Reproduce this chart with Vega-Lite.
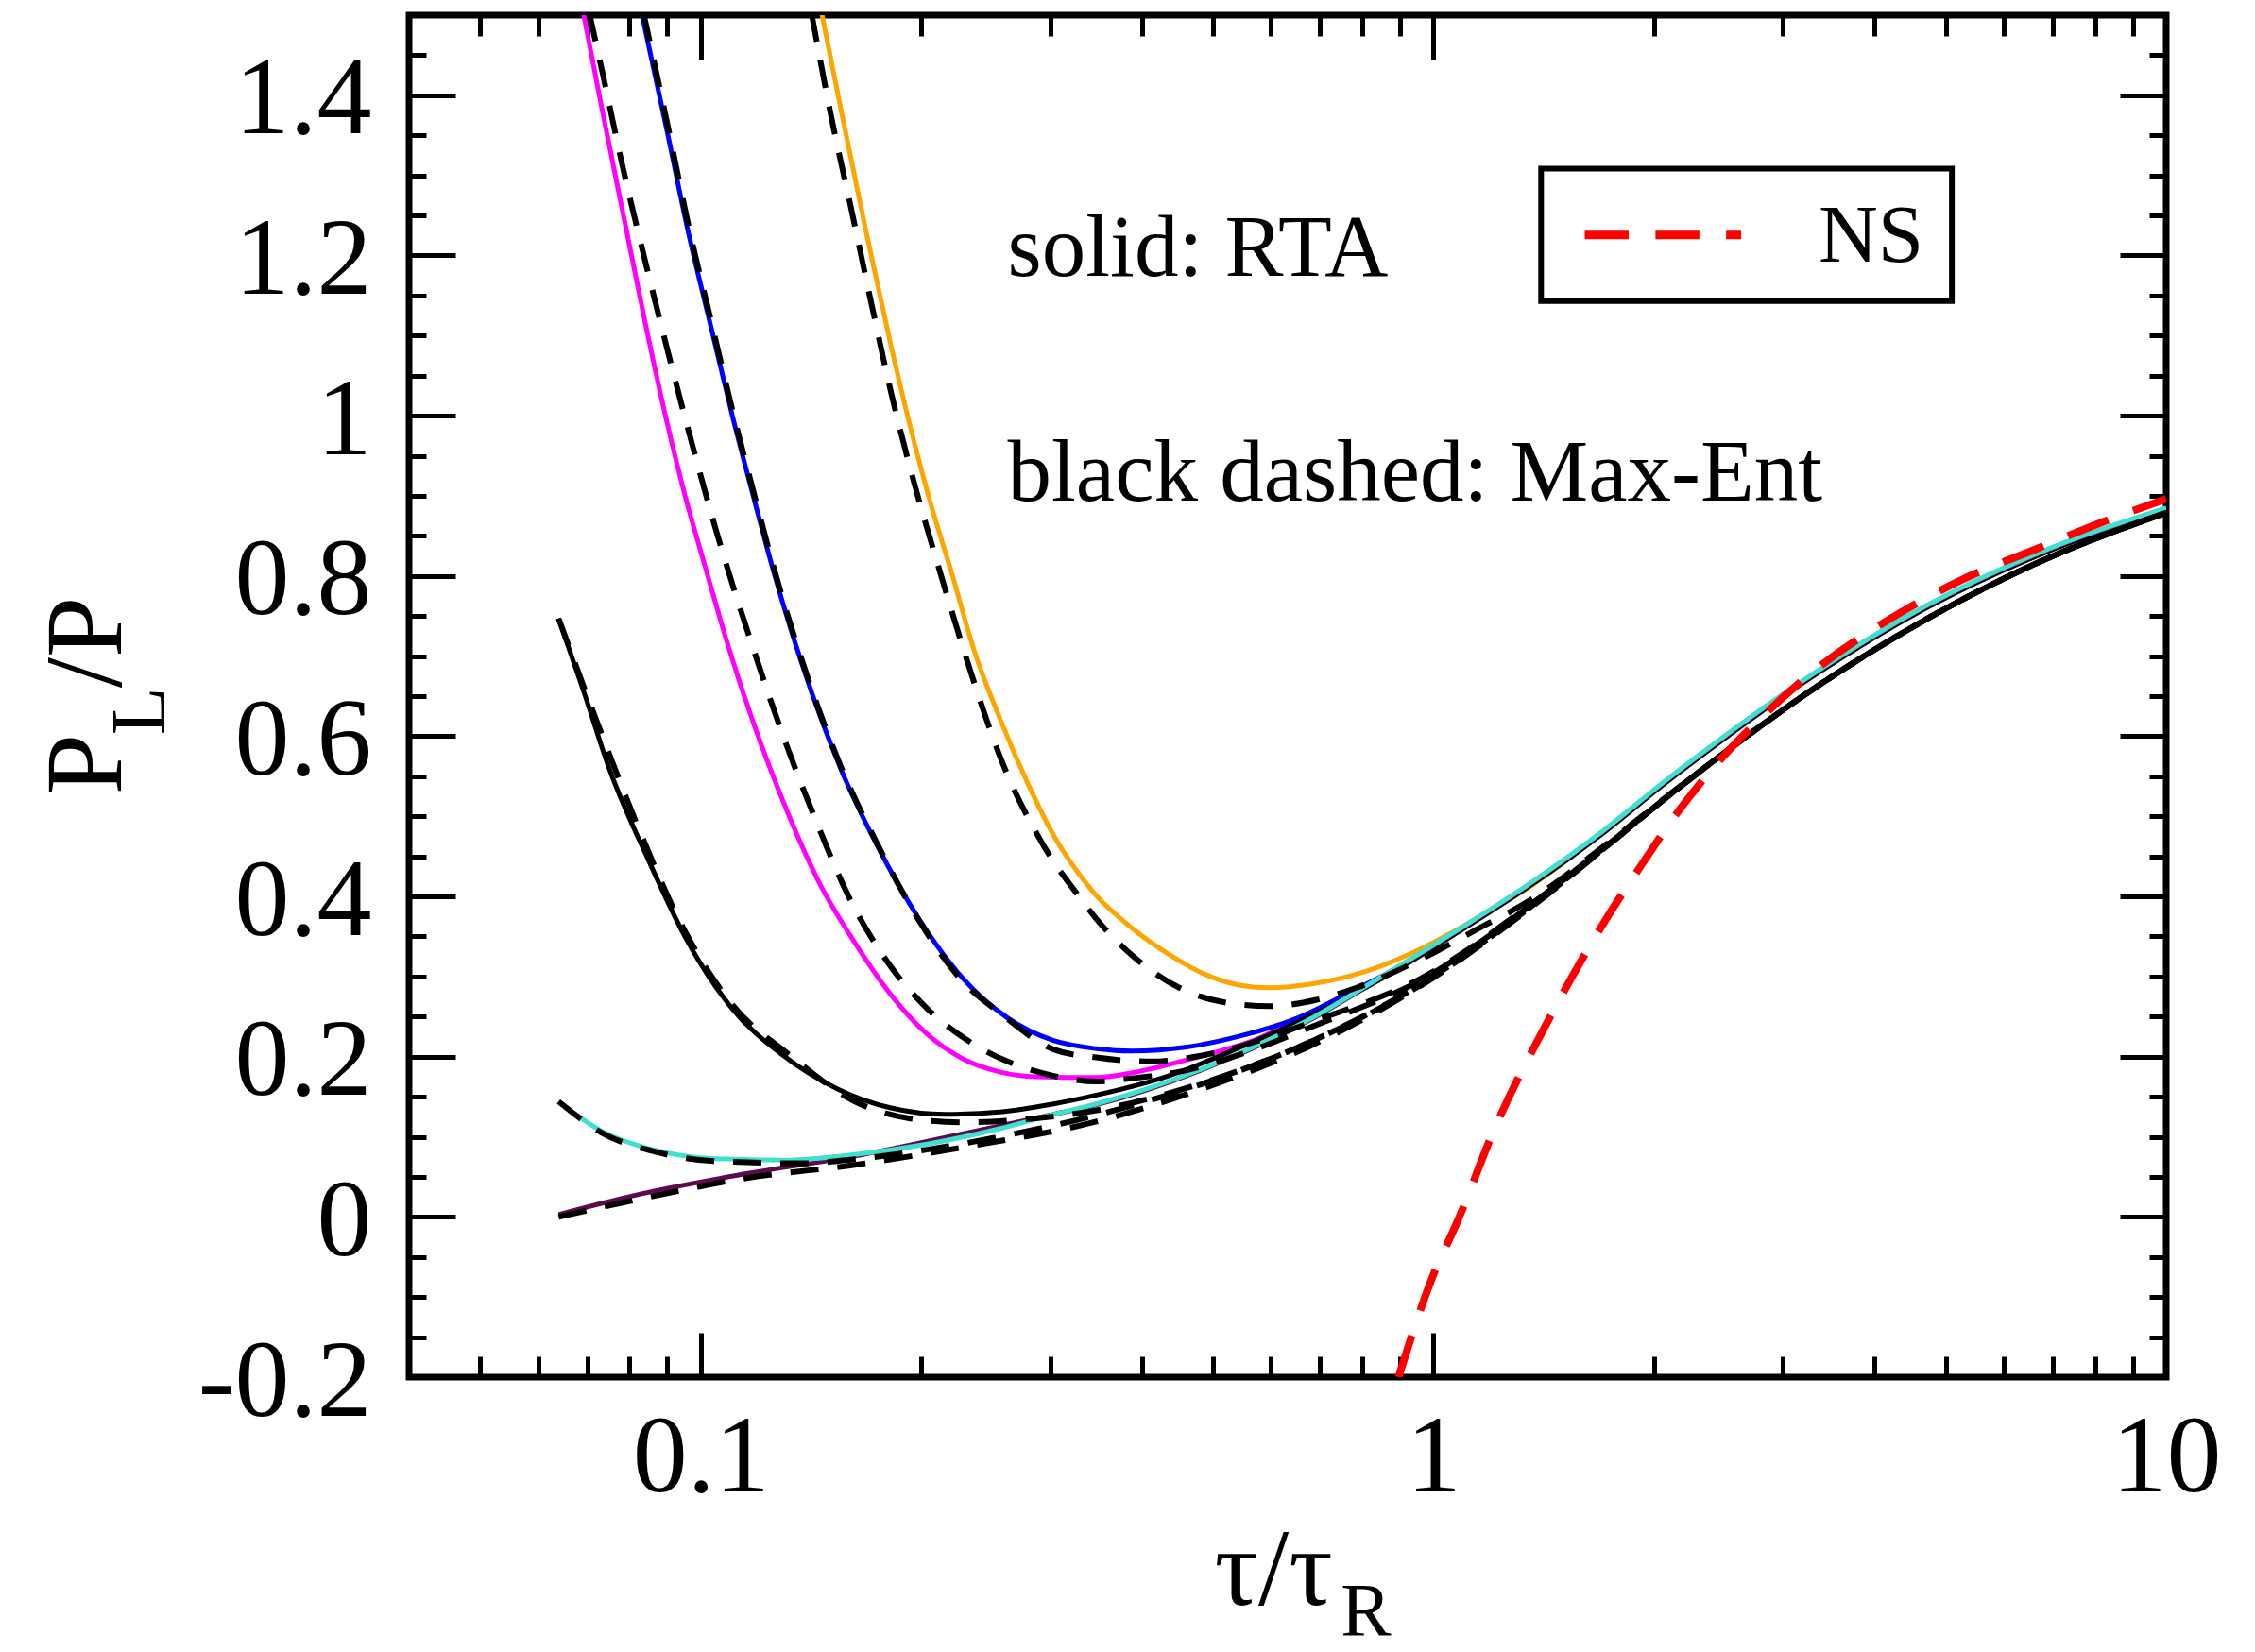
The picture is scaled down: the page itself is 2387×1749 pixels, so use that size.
{
  "$schema": "https://vega.github.io/schema/vega-lite/v6.json",
  "width": 1860,
  "height": 1442,
  "autosize": {"type": "none"},
  "padding": {"left": 433, "top": 16, "right": 94, "bottom": 291},
  "background": "white",
  "config": {
    "font": "Liberation Serif",
    "view": {"stroke": "black", "strokeWidth": 7},
    "axis": {
      "domain": false,
      "grid": false,
      "tickColor": "black",
      "tickWidth": 5,
      "tickCap": "butt",
      "labelFont": "Liberation Serif",
      "labelFontSize": 116,
      "labelColor": "black",
      "labelLimit": 0,
      "labelOverlap": false,
      "labelFlush": false,
      "labelBound": false
    }
  },
  "datasets": {
    "rta": [
      {"run": "r1", "tau": 0.1463, "ratio": 1.502}, {"run": "r1", "tau": 0.157, "ratio": 1.362}, {"run": "r1", "tau": 0.1684, "ratio": 1.227},
      {"run": "r1", "tau": 0.1815, "ratio": 1.091}, {"run": "r1", "tau": 0.1941, "ratio": 0.979}, {"run": "r1", "tau": 0.2068, "ratio": 0.885},
      {"run": "r1", "tau": 0.2194, "ratio": 0.808}, {"run": "r1", "tau": 0.2362, "ratio": 0.707}, {"run": "r1", "tau": 0.2558, "ratio": 0.623},
      {"run": "r1", "tau": 0.2802, "ratio": 0.539}, {"run": "r1", "tau": 0.3032, "ratio": 0.476}, {"run": "r1", "tau": 0.3283, "ratio": 0.428},
      {"run": "r1", "tau": 0.3467, "ratio": 0.401}, {"run": "r1", "tau": 0.3884, "ratio": 0.36}, {"run": "r1", "tau": 0.435, "ratio": 0.328},
      {"run": "r1", "tau": 0.4874, "ratio": 0.303}, {"run": "r1", "tau": 0.546, "ratio": 0.289}, {"run": "r1", "tau": 0.598, "ratio": 0.286},
      {"run": "r1", "tau": 0.6852, "ratio": 0.291}, {"run": "r1", "tau": 0.8124, "ratio": 0.307}, {"run": "r1", "tau": 0.963, "ratio": 0.335},
      {"run": "r1", "tau": 1.142, "ratio": 0.372}, {"run": "r1", "tau": 1.353, "ratio": 0.412}, {"run": "r1", "tau": 1.71, "ratio": 0.481},
      {"run": "r1", "tau": 2.057, "ratio": 0.54}, {"run": "r1", "tau": 2.411, "ratio": 0.588}, {"run": "r1", "tau": 3.375, "ratio": 0.682},
      {"run": "r1", "tau": 4.727, "ratio": 0.762}, {"run": "r1", "tau": 6.62, "ratio": 0.825}, {"run": "r1", "tau": 10, "ratio": 0.883},

      {"run": "r2", "tau": 0.0692, "ratio": 1.502}, {"run": "r2", "tau": 0.0733, "ratio": 1.384}, {"run": "r2", "tau": 0.0785, "ratio": 1.249},
      {"run": "r2", "tau": 0.0841, "ratio": 1.114}, {"run": "r2", "tau": 0.09, "ratio": 0.991}, {"run": "r2", "tau": 0.0953, "ratio": 0.899},
      {"run": "r2", "tau": 0.1014, "ratio": 0.812}, {"run": "r2", "tau": 0.1091, "ratio": 0.712}, {"run": "r2", "tau": 0.1182, "ratio": 0.615},
      {"run": "r2", "tau": 0.1294, "ratio": 0.52}, {"run": "r2", "tau": 0.145, "ratio": 0.418}, {"run": "r2", "tau": 0.1624, "ratio": 0.342},
      {"run": "r2", "tau": 0.1819, "ratio": 0.277}, {"run": "r2", "tau": 0.2038, "ratio": 0.228}, {"run": "r2", "tau": 0.2283, "ratio": 0.197},
      {"run": "r2", "tau": 0.2558, "ratio": 0.181}, {"run": "r2", "tau": 0.2866, "ratio": 0.175}, {"run": "r2", "tau": 0.3467, "ratio": 0.174},
      {"run": "r2", "tau": 0.3884, "ratio": 0.18}, {"run": "r2", "tau": 0.4606, "ratio": 0.196}, {"run": "r2", "tau": 0.5776, "ratio": 0.223},
      {"run": "r2", "tau": 0.6852, "ratio": 0.256}, {"run": "r2", "tau": 0.768, "ratio": 0.28}, {"run": "r2", "tau": 0.86, "ratio": 0.302},
      {"run": "r2", "tau": 1.079, "ratio": 0.356}, {"run": "r2", "tau": 1.353, "ratio": 0.415}, {"run": "r2", "tau": 1.71, "ratio": 0.482},
      {"run": "r2", "tau": 2.057, "ratio": 0.541}, {"run": "r2", "tau": 2.411, "ratio": 0.589}, {"run": "r2", "tau": 3.375, "ratio": 0.683},
      {"run": "r2", "tau": 4.727, "ratio": 0.763}, {"run": "r2", "tau": 6.62, "ratio": 0.826}, {"run": "r2", "tau": 10, "ratio": 0.884},

      {"run": "r3", "tau": 0.0831, "ratio": 1.502}, {"run": "r3", "tau": 0.09, "ratio": 1.355}, {"run": "r3", "tau": 0.0963, "ratio": 1.227},
      {"run": "r3", "tau": 0.1031, "ratio": 1.114}, {"run": "r3", "tau": 0.1104, "ratio": 1.001}, {"run": "r3", "tau": 0.1182, "ratio": 0.897},
      {"run": "r3", "tau": 0.1251, "ratio": 0.813}, {"run": "r3", "tau": 0.1417, "ratio": 0.655}, {"run": "r3", "tau": 0.1552, "ratio": 0.56},
      {"run": "r3", "tau": 0.1738, "ratio": 0.465}, {"run": "r3", "tau": 0.1992, "ratio": 0.37}, {"run": "r3", "tau": 0.2283, "ratio": 0.297},
      {"run": "r3", "tau": 0.2617, "ratio": 0.249}, {"run": "r3", "tau": 0.3032, "ratio": 0.22}, {"run": "r3", "tau": 0.3467, "ratio": 0.21},
      {"run": "r3", "tau": 0.3884, "ratio": 0.207}, {"run": "r3", "tau": 0.4606, "ratio": 0.212}, {"run": "r3", "tau": 0.546, "ratio": 0.226},
      {"run": "r3", "tau": 0.6475, "ratio": 0.247}, {"run": "r3", "tau": 0.768, "ratio": 0.28}, {"run": "r3", "tau": 0.86, "ratio": 0.303},
      {"run": "r3", "tau": 1.079, "ratio": 0.357}, {"run": "r3", "tau": 1.353, "ratio": 0.415}, {"run": "r3", "tau": 1.71, "ratio": 0.482},
      {"run": "r3", "tau": 2.057, "ratio": 0.541}, {"run": "r3", "tau": 2.411, "ratio": 0.589}, {"run": "r3", "tau": 3.375, "ratio": 0.683},
      {"run": "r3", "tau": 4.727, "ratio": 0.763}, {"run": "r3", "tau": 6.62, "ratio": 0.826}, {"run": "r3", "tau": 10, "ratio": 0.884},

      {"run": "r4", "tau": 0.064, "ratio": 0.747}, {"run": "r4", "tau": 0.0693, "ratio": 0.655}, {"run": "r4", "tau": 0.075, "ratio": 0.56},
      {"run": "r4", "tau": 0.085, "ratio": 0.444}, {"run": "r4", "tau": 0.0953, "ratio": 0.349}, {"run": "r4", "tau": 0.1104, "ratio": 0.26},
      {"run": "r4", "tau": 0.1294, "ratio": 0.202}, {"run": "r4", "tau": 0.1535, "ratio": 0.16}, {"run": "r4", "tau": 0.1819, "ratio": 0.136},
      {"run": "r4", "tau": 0.2158, "ratio": 0.128}, {"run": "r4", "tau": 0.2558, "ratio": 0.131}, {"run": "r4", "tau": 0.3032, "ratio": 0.141},
      {"run": "r4", "tau": 0.3467, "ratio": 0.152}, {"run": "r4", "tau": 0.435, "ratio": 0.176}, {"run": "r4", "tau": 0.546, "ratio": 0.212},
      {"run": "r4", "tau": 0.6852, "ratio": 0.252}, {"run": "r4", "tau": 0.86, "ratio": 0.3}, {"run": "r4", "tau": 1.079, "ratio": 0.355},
      {"run": "r4", "tau": 1.353, "ratio": 0.413}, {"run": "r4", "tau": 1.71, "ratio": 0.48}, {"run": "r4", "tau": 2.057, "ratio": 0.539},
      {"run": "r4", "tau": 2.411, "ratio": 0.587}, {"run": "r4", "tau": 3.375, "ratio": 0.681}, {"run": "r4", "tau": 4.727, "ratio": 0.761},
      {"run": "r4", "tau": 6.62, "ratio": 0.824}, {"run": "r4", "tau": 10, "ratio": 0.882},

      {"run": "r5", "tau": 0.064, "ratio": 0.003}, {"run": "r5", "tau": 0.0822, "ratio": 0.028}, {"run": "r5", "tau": 0.1155, "ratio": 0.054},
      {"run": "r5", "tau": 0.1624, "ratio": 0.076}, {"run": "r5", "tau": 0.2283, "ratio": 0.104}, {"run": "r5", "tau": 0.3032, "ratio": 0.128},
      {"run": "r5", "tau": 0.3467, "ratio": 0.14}, {"run": "r5", "tau": 0.4874, "ratio": 0.185}, {"run": "r5", "tau": 0.6852, "ratio": 0.248},
      {"run": "r5", "tau": 0.86, "ratio": 0.302}, {"run": "r5", "tau": 1.079, "ratio": 0.357}, {"run": "r5", "tau": 1.353, "ratio": 0.415},
      {"run": "r5", "tau": 1.71, "ratio": 0.482}, {"run": "r5", "tau": 2.057, "ratio": 0.541}, {"run": "r5", "tau": 2.411, "ratio": 0.589},
      {"run": "r5", "tau": 3.375, "ratio": 0.683}, {"run": "r5", "tau": 4.727, "ratio": 0.763}, {"run": "r5", "tau": 6.62, "ratio": 0.826},
      {"run": "r5", "tau": 10, "ratio": 0.884},

      {"run": "r6", "tau": 0.064, "ratio": 0.144}, {"run": "r6", "tau": 0.0733, "ratio": 0.107}, {"run": "r6", "tau": 0.087, "ratio": 0.083},
      {"run": "r6", "tau": 0.1031, "ratio": 0.073}, {"run": "r6", "tau": 0.1294, "ratio": 0.071}, {"run": "r6", "tau": 0.1624, "ratio": 0.078},
      {"run": "r6", "tau": 0.2038, "ratio": 0.091}, {"run": "r6", "tau": 0.2558, "ratio": 0.11}, {"run": "r6", "tau": 0.3032, "ratio": 0.128},
      {"run": "r6", "tau": 0.3467, "ratio": 0.141}, {"run": "r6", "tau": 0.4874, "ratio": 0.186}, {"run": "r6", "tau": 0.6852, "ratio": 0.249},
      {"run": "r6", "tau": 0.86, "ratio": 0.303}, {"run": "r6", "tau": 1.079, "ratio": 0.358}, {"run": "r6", "tau": 1.353, "ratio": 0.416},
      {"run": "r6", "tau": 1.71, "ratio": 0.483}, {"run": "r6", "tau": 2.057, "ratio": 0.542}, {"run": "r6", "tau": 2.411, "ratio": 0.59},
      {"run": "r6", "tau": 3.375, "ratio": 0.684}, {"run": "r6", "tau": 4.727, "ratio": 0.764}, {"run": "r6", "tau": 6.62, "ratio": 0.827},
      {"run": "r6", "tau": 10, "ratio": 0.885}
    ],
    "maxent": [
      {"run": "r1", "tau": 0.1417, "ratio": 1.502}, {"run": "r1", "tau": 0.1509, "ratio": 1.371}, {"run": "r1", "tau": 0.1606, "ratio": 1.257},
      {"run": "r1", "tau": 0.1709, "ratio": 1.141}, {"run": "r1", "tau": 0.1819, "ratio": 1.029}, {"run": "r1", "tau": 0.1952, "ratio": 0.919},
      {"run": "r1", "tau": 0.2109, "ratio": 0.813}, {"run": "r1", "tau": 0.2335, "ratio": 0.681}, {"run": "r1", "tau": 0.2558, "ratio": 0.576},
      {"run": "r1", "tau": 0.2931, "ratio": 0.465}, {"run": "r1", "tau": 0.3283, "ratio": 0.4}, {"run": "r1", "tau": 0.3467, "ratio": 0.372},
      {"run": "r1", "tau": 0.3884, "ratio": 0.326}, {"run": "r1", "tau": 0.45, "ratio": 0.286}, {"run": "r1", "tau": 0.517, "ratio": 0.268},
      {"run": "r1", "tau": 0.598, "ratio": 0.263}, {"run": "r1", "tau": 0.693, "ratio": 0.271}, {"run": "r1", "tau": 0.785, "ratio": 0.286},
      {"run": "r1", "tau": 0.963, "ratio": 0.322}, {"run": "r1", "tau": 1.142, "ratio": 0.358}, {"run": "r1", "tau": 1.353, "ratio": 0.395},
      {"run": "r1", "tau": 1.721, "ratio": 0.465}, {"run": "r1", "tau": 2.057, "ratio": 0.521}, {"run": "r1", "tau": 2.411, "ratio": 0.569},
      {"run": "r1", "tau": 3.375, "ratio": 0.665}, {"run": "r1", "tau": 4.727, "ratio": 0.747}, {"run": "r1", "tau": 6.62, "ratio": 0.815},
      {"run": "r1", "tau": 10, "ratio": 0.879},

      {"run": "r2", "tau": 0.0705, "ratio": 1.502}, {"run": "r2", "tau": 0.0733, "ratio": 1.432}, {"run": "r2", "tau": 0.0783, "ratio": 1.31},
      {"run": "r2", "tau": 0.0839, "ratio": 1.195}, {"run": "r2", "tau": 0.0898, "ratio": 1.087}, {"run": "r2", "tau": 0.0966, "ratio": 0.976},
      {"run": "r2", "tau": 0.1045, "ratio": 0.863}, {"run": "r2", "tau": 0.1085, "ratio": 0.813}, {"run": "r2", "tau": 0.1182, "ratio": 0.707},
      {"run": "r2", "tau": 0.1294, "ratio": 0.602}, {"run": "r2", "tau": 0.1433, "ratio": 0.497}, {"run": "r2", "tau": 0.1588, "ratio": 0.402},
      {"run": "r2", "tau": 0.1819, "ratio": 0.312}, {"run": "r2", "tau": 0.2038, "ratio": 0.26}, {"run": "r2", "tau": 0.2335, "ratio": 0.218},
      {"run": "r2", "tau": 0.2707, "ratio": 0.189}, {"run": "r2", "tau": 0.3032, "ratio": 0.176}, {"run": "r2", "tau": 0.3467, "ratio": 0.169},
      {"run": "r2", "tau": 0.3884, "ratio": 0.173}, {"run": "r2", "tau": 0.4606, "ratio": 0.183}, {"run": "r2", "tau": 0.546, "ratio": 0.203},
      {"run": "r2", "tau": 0.6852, "ratio": 0.238}, {"run": "r2", "tau": 0.963, "ratio": 0.296}, {"run": "r2", "tau": 1.353, "ratio": 0.388},
      {"run": "r2", "tau": 1.721, "ratio": 0.463}, {"run": "r2", "tau": 2.057, "ratio": 0.52}, {"run": "r2", "tau": 2.411, "ratio": 0.569},
      {"run": "r2", "tau": 3.375, "ratio": 0.665}, {"run": "r2", "tau": 4.727, "ratio": 0.747}, {"run": "r2", "tau": 6.62, "ratio": 0.815},
      {"run": "r2", "tau": 10, "ratio": 0.879},

      {"run": "r3", "tau": 0.0836, "ratio": 1.502}, {"run": "r3", "tau": 0.0905, "ratio": 1.355}, {"run": "r3", "tau": 0.0968, "ratio": 1.227},
      {"run": "r3", "tau": 0.1036, "ratio": 1.114}, {"run": "r3", "tau": 0.1109, "ratio": 1.001}, {"run": "r3", "tau": 0.1187, "ratio": 0.897},
      {"run": "r3", "tau": 0.1256, "ratio": 0.813}, {"run": "r3", "tau": 0.1422, "ratio": 0.655}, {"run": "r3", "tau": 0.1557, "ratio": 0.56},
      {"run": "r3", "tau": 0.1743, "ratio": 0.465}, {"run": "r3", "tau": 0.1992, "ratio": 0.368}, {"run": "r3", "tau": 0.2283, "ratio": 0.293},
      {"run": "r3", "tau": 0.2558, "ratio": 0.255}, {"run": "r3", "tau": 0.3032, "ratio": 0.209}, {"run": "r3", "tau": 0.3467, "ratio": 0.199},
      {"run": "r3", "tau": 0.411, "ratio": 0.194}, {"run": "r3", "tau": 0.4874, "ratio": 0.202}, {"run": "r3", "tau": 0.578, "ratio": 0.22},
      {"run": "r3", "tau": 0.6852, "ratio": 0.244}, {"run": "r3", "tau": 0.963, "ratio": 0.298}, {"run": "r3", "tau": 1.353, "ratio": 0.389},
      {"run": "r3", "tau": 1.721, "ratio": 0.463}, {"run": "r3", "tau": 2.057, "ratio": 0.52}, {"run": "r3", "tau": 2.411, "ratio": 0.569},
      {"run": "r3", "tau": 3.375, "ratio": 0.665}, {"run": "r3", "tau": 4.727, "ratio": 0.747}, {"run": "r3", "tau": 6.62, "ratio": 0.815},
      {"run": "r3", "tau": 10, "ratio": 0.879},

      {"run": "r4", "tau": 0.064, "ratio": 0.747}, {"run": "r4", "tau": 0.0733, "ratio": 0.602}, {"run": "r4", "tau": 0.0822, "ratio": 0.486},
      {"run": "r4", "tau": 0.0941, "ratio": 0.365}, {"run": "r4", "tau": 0.1104, "ratio": 0.265}, {"run": "r4", "tau": 0.1323, "ratio": 0.202},
      {"run": "r4", "tau": 0.1624, "ratio": 0.144}, {"run": "r4", "tau": 0.1925, "ratio": 0.123}, {"run": "r4", "tau": 0.2283, "ratio": 0.118},
      {"run": "r4", "tau": 0.2866, "ratio": 0.123}, {"run": "r4", "tau": 0.3467, "ratio": 0.133}, {"run": "r4", "tau": 0.4874, "ratio": 0.168},
      {"run": "r4", "tau": 0.6852, "ratio": 0.22}, {"run": "r4", "tau": 0.963, "ratio": 0.291}, {"run": "r4", "tau": 1.353, "ratio": 0.386},
      {"run": "r4", "tau": 1.721, "ratio": 0.462}, {"run": "r4", "tau": 2.057, "ratio": 0.52}, {"run": "r4", "tau": 2.411, "ratio": 0.569},
      {"run": "r4", "tau": 3.375, "ratio": 0.665}, {"run": "r4", "tau": 4.727, "ratio": 0.747}, {"run": "r4", "tau": 6.62, "ratio": 0.815},
      {"run": "r4", "tau": 10, "ratio": 0.879},

      {"run": "r5", "tau": 0.064, "ratio": 0.0}, {"run": "r5", "tau": 0.0822, "ratio": 0.022}, {"run": "r5", "tau": 0.1155, "ratio": 0.0485},
      {"run": "r5", "tau": 0.1624, "ratio": 0.065}, {"run": "r5", "tau": 0.2283, "ratio": 0.087}, {"run": "r5", "tau": 0.3467, "ratio": 0.119},
      {"run": "r5", "tau": 0.4874, "ratio": 0.161}, {"run": "r5", "tau": 0.6852, "ratio": 0.215}, {"run": "r5", "tau": 0.963, "ratio": 0.289},
      {"run": "r5", "tau": 1.353, "ratio": 0.385}, {"run": "r5", "tau": 1.721, "ratio": 0.462}, {"run": "r5", "tau": 2.057, "ratio": 0.52},
      {"run": "r5", "tau": 2.411, "ratio": 0.569}, {"run": "r5", "tau": 3.375, "ratio": 0.665}, {"run": "r5", "tau": 4.727, "ratio": 0.747},
      {"run": "r5", "tau": 6.62, "ratio": 0.815}, {"run": "r5", "tau": 10, "ratio": 0.879},

      {"run": "r6", "tau": 0.064, "ratio": 0.144}, {"run": "r6", "tau": 0.0733, "ratio": 0.105}, {"run": "r6", "tau": 0.087, "ratio": 0.081},
      {"run": "r6", "tau": 0.1031, "ratio": 0.07}, {"run": "r6", "tau": 0.1374, "ratio": 0.067}, {"run": "r6", "tau": 0.1624, "ratio": 0.072},
      {"run": "r6", "tau": 0.2038, "ratio": 0.084}, {"run": "r6", "tau": 0.2558, "ratio": 0.1}, {"run": "r6", "tau": 0.3467, "ratio": 0.127},
      {"run": "r6", "tau": 0.4874, "ratio": 0.167}, {"run": "r6", "tau": 0.6852, "ratio": 0.22}, {"run": "r6", "tau": 0.963, "ratio": 0.29},
      {"run": "r6", "tau": 1.353, "ratio": 0.386}, {"run": "r6", "tau": 1.721, "ratio": 0.462}, {"run": "r6", "tau": 2.057, "ratio": 0.52},
      {"run": "r6", "tau": 2.411, "ratio": 0.569}, {"run": "r6", "tau": 3.375, "ratio": 0.665}, {"run": "r6", "tau": 4.727, "ratio": 0.747},
      {"run": "r6", "tau": 6.62, "ratio": 0.815}, {"run": "r6", "tau": 10, "ratio": 0.879}
    ],
    "ns": [
      {"tau": 0.896, "ratio": -0.2}, {"tau": 1.0, "ratio": -0.072}, {"tau": 1.079, "ratio": -0.005}, {"tau": 1.209, "ratio": 0.108},
      {"tau": 1.434, "ratio": 0.245}, {"tau": 1.721, "ratio": 0.372}, {"tau": 1.925, "ratio": 0.44}, {"tau": 2.154, "ratio": 0.505},
      {"tau": 2.465, "ratio": 0.571}, {"tau": 2.852, "ratio": 0.63}, {"tau": 3.376, "ratio": 0.688}, {"tau": 4.226, "ratio": 0.748},
      {"tau": 5.284, "ratio": 0.796}, {"tau": 6.62, "ratio": 0.833}, {"tau": 8.283, "ratio": 0.869}, {"tau": 10, "ratio": 0.896}
    ]
  },
  "layer": [
    {
      "data": {"name": "rta"},
      "mark": {"type": "line", "strokeWidth": 5, "clip": true, "interpolate": "monotone"},
      "encoding": {
        "x": {
          "field": "tau", "type": "quantitative",
          "scale": {"type": "log", "domain": [0.04, 10], "nice": false},
          "axis": {
            "orient": "bottom", "title": null,
            "values": [0.05, 0.06, 0.07, 0.08, 0.09, 0.1, 0.2, 0.3, 0.4, 0.5, 0.6, 0.7, 0.8, 0.9, 1, 2, 3, 4, 5, 6, 7, 8, 9, 10],
            "tickSize": {"condition": {"test": "abs(log(datum.value)/LN10 - round(log(datum.value)/LN10)) < 0.001", "value": -47}, "value": -22},
            "labelExpr": "abs(log(datum.value)/LN10 - round(log(datum.value)/LN10)) < 0.001 ? format(datum.value, '~g') : ''",
            "labelBaseline": "alphabetic",
            "labelPadding": 167
          }
        },
        "y": {
          "field": "ratio", "type": "quantitative",
          "scale": {"domain": [-0.2, 1.5], "nice": false, "zero": false},
          "axis": {
            "orient": "left", "title": null,
            "values": [-0.2, -0.15, -0.1, -0.05, 0, 0.05, 0.1, 0.15, 0.2, 0.25, 0.3, 0.35, 0.4, 0.45, 0.5, 0.55, 0.6, 0.65, 0.7, 0.75, 0.8, 0.85, 0.9, 0.95, 1, 1.05, 1.1, 1.15, 1.2, 1.25, 1.3, 1.35, 1.4, 1.45, 1.5],
            "tickSize": {"condition": {"test": "abs(datum.value*5 - round(datum.value*5)) < 0.001", "value": -49}, "value": -18},
            "labelExpr": "abs(datum.value*5 - round(datum.value*5)) < 0.001 ? (datum.value < 0 ? '-' : '') + format(abs(datum.value), '~g') : ''",
            "labelAlign": "right",
            "labelBaseline": "alphabetic",
            "labelOffset": 40,
            "labelPadding": 89
          }
        },
        "color": {
          "field": "run", "type": "nominal",
          "scale": {"domain": ["r1", "r2", "r3", "r4", "r5", "r6"], "range": ["#ffa500", "#ff00ff", "#0000ff", "#000000", "#5e0a4e", "#40e0d0"]},
          "legend": null
        }
      }
    },
    {
      "data": {"name": "maxent"},
      "mark": {"type": "line", "color": "black", "strokeWidth": 6, "strokeDash": [30, 20], "clip": true, "interpolate": "monotone"},
      "encoding": {
        "x": {
          "field": "tau", "type": "quantitative",
          "scale": {"type": "log", "domain": [0.04, 10], "nice": false},
          "axis": {
            "orient": "top", "title": null, "labels": false,
            "values": [0.05, 0.06, 0.07, 0.08, 0.09, 0.1, 0.2, 0.3, 0.4, 0.5, 0.6, 0.7, 0.8, 0.9, 1, 2, 3, 4, 5, 6, 7, 8, 9, 10],
            "tickSize": {"condition": {"test": "abs(log(datum.value)/LN10 - round(log(datum.value)/LN10)) < 0.001", "value": -47}, "value": -22}
          }
        },
        "y": {
          "field": "ratio", "type": "quantitative",
          "scale": {"domain": [-0.2, 1.5], "nice": false, "zero": false},
          "axis": {
            "orient": "right", "title": null, "labels": false,
            "values": [-0.2, -0.15, -0.1, -0.05, 0, 0.05, 0.1, 0.15, 0.2, 0.25, 0.3, 0.35, 0.4, 0.45, 0.5, 0.55, 0.6, 0.65, 0.7, 0.75, 0.8, 0.85, 0.9, 0.95, 1, 1.05, 1.1, 1.15, 1.2, 1.25, 1.3, 1.35, 1.4, 1.45, 1.5],
            "tickSize": {"condition": {"test": "abs(datum.value*5 - round(datum.value*5)) < 0.001", "value": -49}, "value": -18}
          }
        },
        "detail": {"field": "run", "type": "nominal"}
      }
    },
    {
      "data": {"name": "ns"},
      "mark": {"type": "line", "color": "#ff0000", "strokeWidth": 8, "strokeDash": [46, 28], "clip": true, "interpolate": "monotone"},
      "encoding": {
        "x": {"field": "tau", "type": "quantitative", "axis": null},
        "y": {"field": "ratio", "type": "quantitative", "axis": null}
      }
    },
    {
      "data": {"values": [{}]},
      "mark": {"type": "rect", "fill": "white", "stroke": "black", "strokeWidth": 6},
      "encoding": {
        "x": {"datum": 1.4026, "type": "quantitative", "axis": null},
        "x2": {"datum": 5.099},
        "y": {"datum": 1.3084, "type": "quantitative", "axis": null},
        "y2": {"datum": 1.143}
      }
    },
    {
      "data": {"values": [{}]},
      "mark": {"type": "rule", "color": "#ff0000", "strokeWidth": 9, "strokeDash": [46.5, 28.3], "strokeCap": "butt"},
      "encoding": {
        "x": {"datum": 1.609, "type": "quantitative", "axis": null},
        "x2": {"datum": 2.63},
        "y": {"datum": 1.2256, "type": "quantitative", "axis": null}
      }
    },
    {
      "data": {"values": [{}]},
      "mark": {"type": "text", "text": "NS", "font": "Liberation Serif", "fontSize": 87, "align": "left", "baseline": "alphabetic", "color": "black"},
      "encoding": {
        "x": {"datum": 3.354, "type": "quantitative", "axis": null},
        "y": {"datum": 1.1919, "type": "quantitative", "axis": null}
      }
    },
    {
      "data": {"values": [{}]},
      "mark": {"type": "text", "text": "solid: RTA", "font": "Liberation Serif", "fontSize": 93, "align": "left", "baseline": "alphabetic", "color": "black"},
      "encoding": {
        "x": {"datum": 0.2623, "type": "quantitative", "axis": null},
        "y": {"datum": 1.1742, "type": "quantitative", "axis": null}
      }
    },
    {
      "data": {"values": [{}]},
      "mark": {"type": "text", "text": "black dashed: Max-Ent", "font": "Liberation Serif", "fontSize": 93, "align": "left", "baseline": "alphabetic", "color": "black"},
      "encoding": {
        "x": {"datum": 0.2623, "type": "quantitative", "axis": null},
        "y": {"datum": 0.8942, "type": "quantitative", "axis": null}
      }
    },
    {
      "data": {"values": [{}]},
      "mark": {"type": "text", "text": "τ/τ", "font": "Liberation Serif", "fontSize": 116, "align": "left", "baseline": "alphabetic", "color": "black"},
      "encoding": {
        "x": {"datum": 0.5024, "type": "quantitative", "axis": null},
        "y": {"datum": -0.4847, "type": "quantitative", "axis": null}
      }
    },
    {
      "data": {"values": [{}]},
      "mark": {"type": "text", "text": "R", "font": "Liberation Serif", "fontSize": 80, "align": "left", "baseline": "alphabetic", "color": "black"},
      "encoding": {
        "x": {"datum": 0.7475, "type": "quantitative", "axis": null},
        "y": {"datum": -0.523, "type": "quantitative", "axis": null}
      }
    },
    {
      "data": {"values": [{}]},
      "mark": {"type": "text", "text": "P", "font": "Liberation Serif", "fontSize": 116, "angle": 270, "align": "left", "baseline": "alphabetic", "color": "black"},
      "encoding": {
        "x": {"datum": 0.01617, "type": "quantitative", "axis": null},
        "y": {"datum": 0.5271, "type": "quantitative", "axis": null}
      }
    },
    {
      "data": {"values": [{}]},
      "mark": {"type": "text", "text": "L", "font": "Liberation Serif", "fontSize": 83, "angle": 270, "align": "left", "baseline": "alphabetic", "color": "black"},
      "encoding": {
        "x": {"datum": 0.01854, "type": "quantitative", "axis": null},
        "y": {"datum": 0.6014, "type": "quantitative", "axis": null}
      }
    },
    {
      "data": {"values": [{}]},
      "mark": {"type": "text", "text": "/P", "font": "Liberation Serif", "fontSize": 116, "angle": 270, "align": "left", "baseline": "alphabetic", "color": "black"},
      "encoding": {
        "x": {"datum": 0.01617, "type": "quantitative", "axis": null},
        "y": {"datum": 0.6604, "type": "quantitative", "axis": null}
      }
    }
  ],
  "resolve": {"axis": {"x": "independent", "y": "independent"}}
}
